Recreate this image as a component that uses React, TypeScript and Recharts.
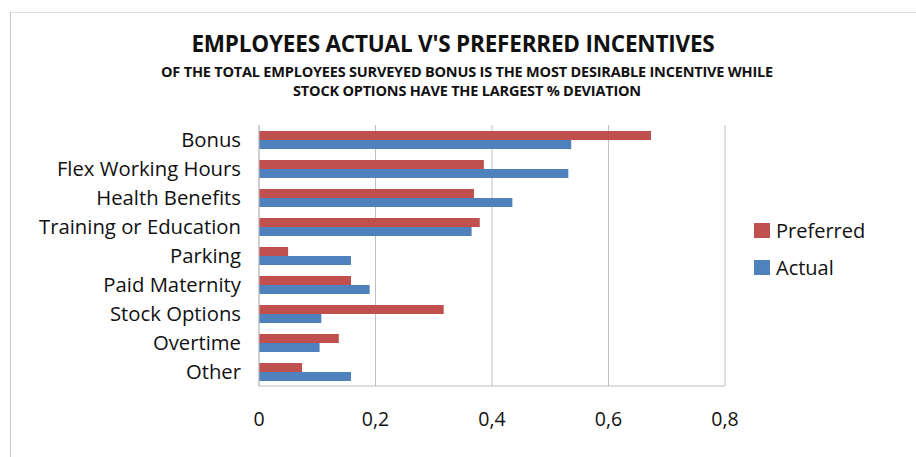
import { Bar, BarChart, CartesianGrid, XAxis, YAxis } from 'recharts';

const categories = [
  'Bonus',
  'Flex Working Hours',
  'Health Benefits',
  'Training or Education',
  'Parking',
  'Paid Maternity',
  'Stock Options',
  'Overtime',
  'Other',
];
const preferred = [0.673, 0.386, 0.369, 0.379, 0.05, 0.158, 0.317, 0.137, 0.074];
const actual = [0.536, 0.531, 0.435, 0.365, 0.158, 0.19, 0.107, 0.104, 0.158];
const xTicks = [0, 0.2, 0.4, 0.6, 0.8];

const series = [
  { key: 'Preferred', color: '#c0504d' },
  { key: 'Actual', color: '#4f81bd' },
];

const data = categories.map((name, i) => ({
  name,
  Preferred: preferred[i],
  Actual: actual[i],
}));

const font = '"Open Sans", sans-serif';
const gray = '#bfbfbf';

export default function App() {
  return (
    <div
      style={{
        position: 'absolute',
        left: 0,
        top: 0,
        width: 916,
        height: 457,
        background: '#fff',
        fontFamily: font,
        overflow: 'hidden',
      }}
    >
      <div
        style={{
          position: 'absolute',
          left: 10,
          top: 12,
          right: 0,
          bottom: 0,
          borderLeft: '1.5px solid #c8c8c8',
          borderTop: '1.5px solid #dcdcdc',
        }}
      />
      <div
        style={{
          position: 'absolute',
          left: 0,
          width: 906,
          top: 29,
          textAlign: 'center',
          fontWeight: 700,
          fontSize: 22.5,
          lineHeight: '30px',
          color: '#111',
          letterSpacing: -0.2,
        }}
      >
        EMPLOYEES ACTUAL V'S PREFERRED INCENTIVES
      </div>
      <div
        style={{
          position: 'absolute',
          left: 0,
          width: 934,
          top: 62,
          textAlign: 'center',
          fontWeight: 700,
          fontSize: 14.5,
          lineHeight: '19px',
          color: '#111',
          letterSpacing: -0.2,
        }}
      >
        OF THE TOTAL EMPLOYEES SURVEYED BONUS IS THE MOST DESIRABLE INCENTIVE WHILE
        <br />
        STOCK OPTIONS HAVE THE LARGEST % DEVIATION
      </div>
      <BarChart
        width={916}
        height={457}
        data={data}
        layout="vertical"
        margin={{ top: 125, right: 191, bottom: 31, left: 10 }}
        barGap={0}
        barSize={9}
        style={{ position: 'absolute', left: 0, top: 0 }}
      >
        <CartesianGrid horizontal={false} stroke={gray} strokeWidth={1} />
        <XAxis
          type="number"
          domain={[0, 0.8]}
          ticks={xTicks}
          height={40}
          axisLine={{ stroke: gray }}
          tickLine={false}
          tickMargin={20}
          tickFormatter={(v: number) => (v === 0 ? '0' : String(v).replace('.', ','))}
          tick={{ fontSize: 19.5, fill: '#111', fontFamily: font }}
        />
        <YAxis
          type="category"
          dataKey="name"
          width={249}
          axisLine={{ stroke: gray }}
          tickLine={false}
          tickMargin={12}
          interval={0}
          tick={{ fontSize: 20.3, fill: '#111', fontFamily: font }}
        />
        {series.map((s) => (
          <Bar key={s.key} dataKey={s.key} fill={s.color} isAnimationActive={false} />
        ))}
      </BarChart>
      <div style={{ position: 'absolute', left: 754, top: 212 }}>
        {series.map((s) => (
          <div
            key={s.key}
            style={{
              display: 'flex',
              alignItems: 'center',
              height: 37,
              fontSize: 20,
              color: '#111',
            }}
          >
            <span
              style={{
                display: 'inline-block',
                width: 16,
                height: 15,
                background: s.color,
                marginRight: 6,
              }}
            />
            {s.key}
          </div>
        ))}
      </div>
    </div>
  );
}
